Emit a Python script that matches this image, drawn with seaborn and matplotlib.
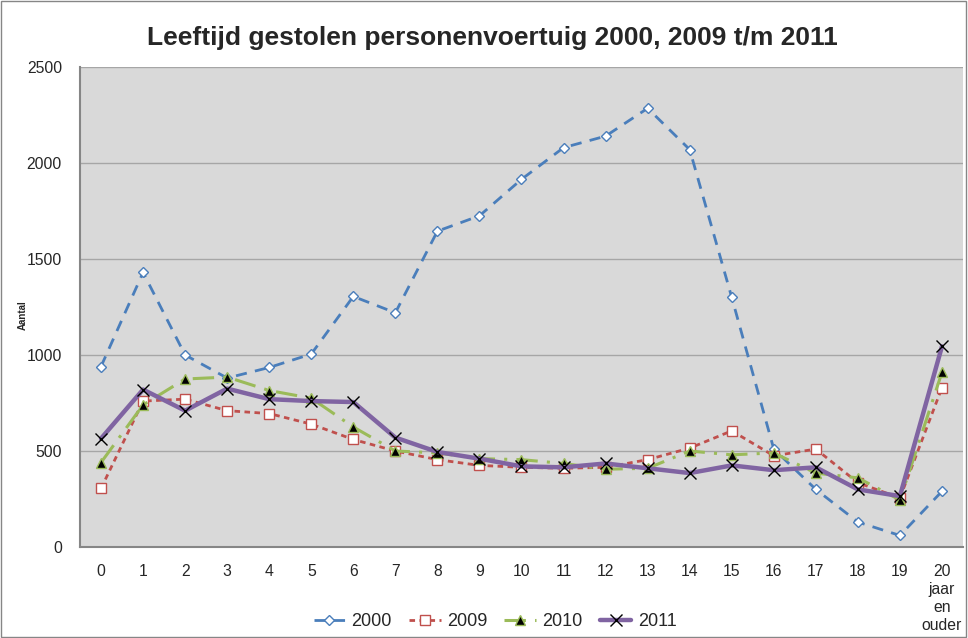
import matplotlib
matplotlib.use("Agg")
import matplotlib.pyplot as plt
import seaborn as sns
import pandas as pd
import numpy as np

categories = ["0", "1", "2", "3", "4", "5", "6", "7", "8", "9", "10",
              "11", "12", "13", "14", "15", "16", "17", "18", "19",
              "20\njaar\nen\nouder"]
v2000 = [940, 1430, 1000, 880, 935, 1005, 1305, 1220, 1645, 1725, 1915,
         2080, 2140, 2285, 2070, 1300, 510, 300, 130, 60, 290]
v2009 = [305, 760, 770, 710, 695, 640, 560, 500, 455, 425, 415,
         410, 415, 455, 515, 605, 475, 510, 335, 255, 830]
v2010 = [440, 740, 875, 885, 815, 775, 625, 500, 490, 460, 455,
         435, 405, 410, 500, 480, 490, 385, 360, 245, 910]
v2011 = [565, 820, 710, 825, 770, 760, 755, 570, 495, 460, 420,
         415, 435, 410, 385, 425, 400, 415, 300, 265, 1045]
series_names = ["2000", "2009", "2010", "2011"]

sns.set_theme(style="white")
plt.rcParams['font.family'] = ['Liberation Sans', 'DejaVu Sans']

fig = plt.figure(figsize=(9.68, 6.38), dpi=100)
ax = fig.add_axes([80/968, (638-547)/638, (963-80)/968, 480/638])
ax.set_facecolor("#D9D9D9")

pos = list(range(len(categories)))
df = pd.DataFrame({"pos": pos, "2000": v2000, "2009": v2009,
                   "2010": v2010, "2011": v2011})

styles = {
    "2000": dict(color="#4A7EBB", lw=2.0, dashes=(4, 3), marker="D", ms=5,
                 mfc="white", mec="#4A7EBB", mew=1.0),
    "2009": dict(color="#C0504D", lw=2.0, dashes=(2, 1.6), marker="s", ms=7,
                 mfc="white", mec="#C0504D", mew=1.0),
    "2010": dict(color="#9BBB59", lw=2.2, dashes=(7, 3, 1, 3), marker="^", ms=7,
                 mfc="black", mec="#9BBB59", mew=1.0),
    "2011": dict(color="#8064A2", lw=3.2, marker="x", ms=9,
                 mfc="black", mec="black", mew=1.0),
}

for name in series_names:
    st = dict(styles[name])
    dashes = st.pop("dashes", None)
    sns.lineplot(data=df, x="pos", y=name, ax=ax, label=name, **st)
    if dashes is not None:
        ax.lines[-1].set_dashes(dashes)

ax.set_xlim(-0.5, 20.5)
ax.set_ylim(0, 2500)
ax.set_yticks([0, 500, 1000, 1500, 2000, 2500])
ax.set_yticklabels(["0", "500", "1000", "1500", "2000", "2500"], fontsize=11.3)
ax.set_xticks(pos)
ax.set_xticklabels(categories, fontsize=11.3, linespacing=1.27, va="top")
ax.tick_params(axis="y", length=0, pad=13)
ax.tick_params(axis="x", length=0, pad=12)
ax.yaxis.grid(True, color="#A6A6A6", lw=1)
ax.set_axisbelow(True)
for s in ["top", "right"]:
    ax.spines[s].set_visible(False)
for s in ["left", "bottom"]:
    ax.spines[s].set_color("#868686")
    ax.spines[s].set_linewidth(1.5)

ax.set_xlabel("")
ax.set_ylabel("Aantal", fontsize=7, fontweight="bold")
ax.yaxis.set_label_coords((28 - 80) / 883, (547 - 315) / 480)

fig.text(492/968, 1 - 38/638, "Leeftijd gestolen personenvoertuig 2000, 2009 t/m 2011",
         ha="center", va="center", fontsize=19, fontweight="bold")

handles, labels = ax.get_legend_handles_labels()
ax.legend(handles, labels, loc="center", bbox_to_anchor=(495/968, 1 - 622/638),
          bbox_transform=fig.transFigure, ncol=4, frameon=False, fontsize=13,
          handlelength=1.75, columnspacing=0.95, handletextpad=0.35)

fig.patches.append(matplotlib.patches.Rectangle((0.001, 0.001), 0.997, 0.997,
                   transform=fig.transFigure, fill=False, ec="#868686", lw=1))

fig.savefig("out.png", dpi=100)
